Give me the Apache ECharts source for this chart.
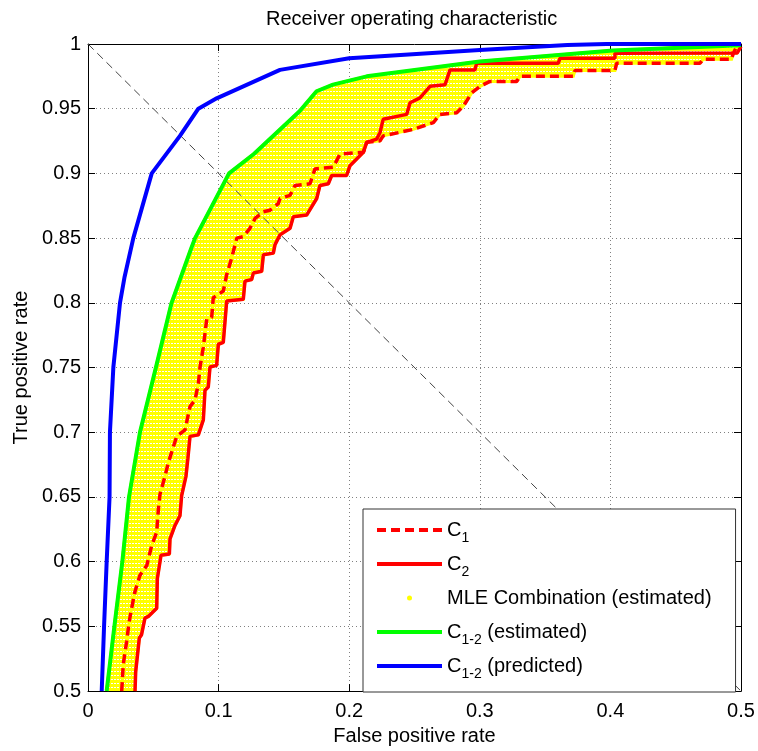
<!DOCTYPE html>
<html>
<head>
<meta charset="utf-8">
<script src="https://cdn.jsdelivr.net/npm/echarts@6/dist/echarts.min.js"></script>
<style>
html, body { margin: 0; padding: 0; background: #fff; }
#main { width: 758px; height: 751px; }
</style>
</head>
<body>
<div id="main"></div>
<script>
// curves, [false positive rate, true positive rate]
var c1Points = [
    [0.0258,0.5],[0.027,0.5207],[0.0296,0.5385],[0.0316,0.554],[0.0334,0.564],[0.036,0.577],
    [0.0398,0.5896],[0.045,0.597],[0.0488,0.6126],[0.0526,0.6228],[0.0539,0.6406],[0.0551,0.652],
    [0.059,0.6662],[0.0615,0.6764],[0.0679,0.6968],[0.0743,0.7019],[0.0781,0.7198],[0.0819,0.7249],
    [0.0845,0.7376],[0.0858,0.7504],[0.0883,0.7657],[0.0909,0.7874],[0.0947,0.7887],[0.0959,0.804],
    [0.1036,0.8091],[0.1062,0.8218],[0.11,0.8346],[0.1139,0.85],[0.1189,0.8512],[0.124,0.8576],
    [0.1279,0.8652],[0.1343,0.8704],[0.1394,0.8716],[0.1457,0.8767],[0.147,0.8806],[0.1547,0.8831],
    [0.1585,0.8907],[0.17,0.892],[0.1738,0.9035],[0.1878,0.9048],[0.193,0.915],[0.2108,0.9163],
    [0.2134,0.924],[0.2236,0.9252],[0.226,0.929],[0.249,0.934],[0.2644,0.9393],[0.2695,0.9456],
    [0.2823,0.9469],[0.2874,0.952],[0.2938,0.9622],[0.3002,0.9673],[0.3078,0.9711],[0.3282,0.9711],
    [0.3308,0.975],[0.3716,0.975],[0.3729,0.9796],[0.4035,0.9796],[0.4048,0.9852],[0.4686,0.9852],
    [0.4712,0.9883],[0.4928,0.9883],[0.4941,0.9929],[0.4967,0.998]
];
var c2Points = [
    [0.036,0.5],[0.0365,0.515],[0.0393,0.541],[0.041,0.5436],[0.0436,0.5564],[0.0462,0.5577],
    [0.0526,0.564],[0.0531,0.587],[0.0559,0.605],[0.0623,0.606],[0.0628,0.6177],[0.0666,0.628],
    [0.0704,0.6355],[0.0717,0.651],[0.075,0.666],[0.0765,0.68],[0.0781,0.6968],[0.0845,0.698],
    [0.0883,0.7096],[0.0896,0.7325],[0.0921,0.735],[0.0934,0.7504],[0.0985,0.7517],[0.0998,0.768],
    [0.1036,0.7695],[0.1062,0.8015],[0.1189,0.8027],[0.1202,0.8168],[0.1253,0.818],[0.1266,0.823],
    [0.133,0.8244],[0.1343,0.8372],[0.1419,0.8384],[0.1432,0.845],[0.147,0.8525],[0.1547,0.8576],
    [0.1572,0.8665],[0.1674,0.8678],[0.1751,0.8806],[0.1776,0.8907],[0.184,0.892],[0.1866,0.8984],
    [0.198,0.8984],[0.2006,0.906],[0.2108,0.9163],[0.2134,0.924],[0.221,0.9265],[0.2236,0.9316],
    [0.226,0.9418],[0.244,0.9456],[0.2466,0.9546],[0.2542,0.9584],[0.2619,0.9673],[0.2734,0.9686],
    [0.2772,0.98],[0.2963,0.98],[0.2976,0.9852],[0.3601,0.9852],[0.3614,0.989],[0.4035,0.989],
    [0.4035,0.9929],[0.497,0.993],[0.5,0.998]
];
var estPoints = [
    [0.0143,0.5],[0.0202,0.55],[0.0263,0.6],[0.0314,0.65],[0.0398,0.7],[0.052,0.75],[0.064,0.8],
    [0.079,0.842],[0.082,0.85],[0.108,0.9],[0.127,0.915],[0.162,0.948],[0.175,0.9635],
    [0.1876,0.9686],[0.2134,0.975],[0.3,0.9865],[0.402,0.995],[0.5,0.999]
];
var predPoints = [
    [0.0105,0.5],[0.0123,0.55],[0.0143,0.6],[0.0165,0.65],[0.0168,0.7],[0.0194,0.75],[0.0245,0.8],
    [0.028,0.82],[0.0347,0.85],[0.0488,0.9],[0.0704,0.929],[0.0845,0.95],[0.0985,0.958],
    [0.147,0.98],[0.2,0.989],[0.3,0.9954],[0.367,0.9992],[0.397,1],[0.5,1]
];
var diagPoints = [[0, 1], [0.5, 0.5]];

var mleName = 'MLE Combination (estimated)';
var font = "'Liberation Sans', Arial, sans-serif";

// dotted yellow texture like the marker cloud
var tile = document.createElement('canvas');
tile.width = 3;
tile.height = 4;
var tctx = tile.getContext('2d');
tctx.fillStyle = '#ffff00';
tctx.fillRect(0, 0, 3, 4);
tctx.fillStyle = '#ffffff';
tctx.fillRect(0, 3, 2, 1);
var yellowPattern = { image: tile, repeat: 'repeat' };

function renderMle(params, api) {
    var edge = params.dataIndex === 0 ? c2Points : c1Points;
    var pts = [];
    for (var i = 0; i < estPoints.length; i++) {
        pts.push(api.coord(estPoints[i]));
    }
    for (var j = edge.length - 1; j >= 0; j--) {
        pts.push(api.coord(edge[j]));
    }
    return {
        type: 'polygon',
        shape: { points: pts },
        style: { fill: yellowPattern, stroke: '#ffff00', lineWidth: 3 }
    };
}

function legendText(name) {
    return name.replace(/^C([0-9-]+)/, 'C{s|$1}');
}

var myChart = echarts.init(document.getElementById('main'));
var option = {
    animation: false,
    textStyle: { fontFamily: font },
    title: {
        text: 'Receiver operating characteristic',
        left: 261,
        top: 4,
        textStyle: { fontSize: 20, fontWeight: 'normal', color: '#000', fontFamily: font }
    },
    grid: { left: 88, top: 44, width: 653, height: 653 },
    legend: {
        data: [
            { name: 'C1' },
            { name: 'C2' },
            { name: mleName, icon: 'circle' },
            { name: 'C1-2 (estimated)' },
            { name: 'C1-2 (predicted)' }
        ],
        orient: 'vertical',
        left: 363,
        top: 509,
        padding: [6, 24, 11, 12],
        itemWidth: 65,
        itemHeight: 5,
        itemGap: 4,
        backgroundColor: '#fff',
        borderColor: '#333',
        borderWidth: 1,
        borderRadius: 0,
        selectedMode: false,
        lineStyle: { width: 4 },
        formatter: legendText,
        textStyle: {
            fontSize: 20,
            color: '#000',
            lineHeight: 30,
            fontFamily: font,
            rich: {
                s: { fontSize: 14, lineHeight: 12, verticalAlign: 'bottom', color: '#000', fontFamily: font }
            }
        },
        z: 10
    },
    xAxis: [{
        type: 'value',
        min: 0,
        max: 0.5,
        interval: 0.1,
        position: 'bottom',
        name: 'False positive rate',
        nameLocation: 'middle',
        nameGap: 33,
        nameTextStyle: { fontSize: 20, color: '#000' },
        axisLine: { show: true, onZero: false, lineStyle: { color: '#000' } },
        axisTick: { show: true, inside: true, length: 7, lineStyle: { color: '#000' } },
        axisLabel: { fontSize: 20, color: '#000', margin: 10 },
        splitLine: { show: true, lineStyle: { color: '#808080', type: [1, 3] } }
    }, {
        type: 'value',
        min: 0,
        max: 0.5,
        interval: 0.1,
        position: 'top',
        axisLine: { show: true, onZero: false, lineStyle: { color: '#000' } },
        axisTick: { show: true, inside: true, length: 7, lineStyle: { color: '#000' } },
        axisLabel: { show: false },
        splitLine: { show: false }
    }],
    yAxis: [{
        type: 'value',
        min: 0.5,
        max: 1,
        interval: 0.05,
        position: 'left',
        name: 'True positive rate',
        nameLocation: 'middle',
        nameGap: 56,
        nameTextStyle: { fontSize: 20, color: '#000' },
        axisLine: { show: true, onZero: false, lineStyle: { color: '#000' } },
        axisTick: { show: true, inside: true, length: 7, lineStyle: { color: '#000' } },
        axisLabel: { fontSize: 20, color: '#000', margin: 7 },
        splitLine: { show: true, lineStyle: { color: '#808080', type: [1, 3] } }
    }, {
        type: 'value',
        min: 0.5,
        max: 1,
        interval: 0.05,
        position: 'right',
        axisLine: { show: true, onZero: false, lineStyle: { color: '#000' } },
        axisTick: { show: true, inside: true, length: 7, lineStyle: { color: '#000' } },
        axisLabel: { show: false },
        splitLine: { show: false }
    }],
    series: [
        {
            name: mleName,
            type: 'custom',
            renderItem: renderMle,
            clip: true,
            itemStyle: { color: '#ffff00' },
            data: [[0, 0.5], [0, 0.5]],
            z: 1
        },
        {
            name: 'diag',
            type: 'line',
            data: diagPoints,
            symbol: 'none',
            silent: true,
            lineStyle: { color: '#444', width: 1, type: [8, 5] },
            z: 2
        },
        {
            name: 'C1',
            type: 'line',
            data: c1Points,
            symbol: 'none',
            lineStyle: { color: '#ff0000', width: 3.5, type: [9, 5] },
            itemStyle: { color: '#ff0000' },
            z: 3
        },
        {
            name: 'C2',
            type: 'line',
            data: c2Points,
            symbol: 'none',
            lineStyle: { color: '#ff0000', width: 3.5 },
            itemStyle: { color: '#ff0000' },
            z: 3
        },
        {
            name: 'C1-2 (estimated)',
            type: 'line',
            data: estPoints,
            symbol: 'none',
            lineStyle: { color: '#00ff00', width: 4 },
            itemStyle: { color: '#00ff00' },
            z: 4
        },
        {
            name: 'C1-2 (predicted)',
            type: 'line',
            data: predPoints,
            symbol: 'none',
            lineStyle: { color: '#0000ff', width: 4 },
            itemStyle: { color: '#0000ff' },
            z: 4
        }
    ]
};
myChart.setOption(option, true);
</script>
</body>
</html>
